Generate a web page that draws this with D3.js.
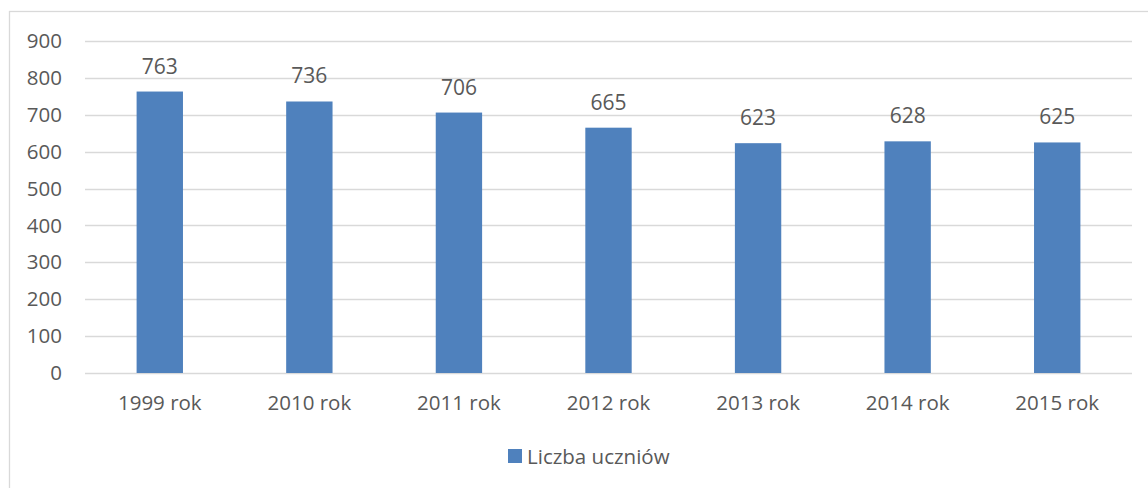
<html>
<head>
<meta charset="utf-8">
<title>Liczba uczniów</title>
<script src="https://cdn.jsdelivr.net/npm/d3@7"></script>
<style>
  body { margin: 0; background: #fff; }
  text { font-family: "Open Sans", sans-serif; fill: #595959; }
</style>
</head>
<body>
<script>
// data
var years = ["1999 rok", "2010 rok", "2011 rok", "2012 rok", "2013 rok", "2014 rok", "2015 rok"];
var pupils = [763, 736, 706, 665, 623, 628, 625];
var yTicks = [0, 100, 200, 300, 400, 500, 600, 700, 800, 900];
var seriesName = "Liczba uczniów";

var w = 1148, h = 488;
var svg = d3.select("body").append("svg").attr("width", w).attr("height", h);

// chart border
svg.append("rect")
   .attr("x", 9.5).attr("y", 11.5)
   .attr("width", w + 10).attr("height", h + 10)
   .style("fill", "none").style("stroke", "#d9d9d9").style("stroke-width", 1.3);

var x = d3.scaleBand().domain(years).range([85, 1132]).paddingInner(0.69).paddingOuter(0.345);
var y = d3.scaleLinear().domain([0, 900]).range([373, 41]);

// gridlines
svg.append("g").selectAll("line")
   .data(yTicks).enter().append("line")
   .attr("x1", 85).attr("x2", 1132)
   .attr("y1", function(d) { return Math.round(y(d)) + 0.5; })
   .attr("y2", function(d) { return Math.round(y(d)) + 0.5; })
   .style("stroke", "#d9d9d9").style("stroke-width", 1.3);

// y axis labels
var yAxis = d3.axisLeft(y).tickValues(yTicks).tickSize(0).tickPadding(0);
var gy = svg.append("g").attr("transform", "translate(62,0)").call(yAxis);
gy.select(".domain").remove();
gy.selectAll("text").style("font-size", "20.5px").style("font-family", "Open Sans").attr("fill", "#595959");

// x axis labels
var xAxis = d3.axisBottom(x).tickSize(0).tickPadding(0);
var gx = svg.append("g").attr("transform", "translate(0,395)").call(xAxis);
gx.select(".domain").remove();
gx.selectAll("text").style("font-size", "20.5px").style("font-family", "Open Sans").attr("fill", "#595959");

// bars
svg.append("g").selectAll("rect")
   .data(pupils).enter().append("rect")
   .attr("x", function(d, i) { return x(years[i]); })
   .attr("y", function(d) { return y(d); })
   .attr("width", x.bandwidth())
   .attr("height", function(d) { return y(0) - y(d); })
   .attr("fill", "#4f81bd");

// value labels
svg.append("g").selectAll("text")
   .data(pupils).enter().append("text")
   .attr("x", function(d, i) { return x(years[i]) + x.bandwidth() / 2; })
   .attr("y", function(d) { return y(d) - 18; })
   .attr("text-anchor", "middle")
   .style("font-size", "21px")
   .text(function(d) { return d; });

// legend
var lg = svg.append("g").attr("transform", "translate(508,449)");
lg.append("rect").attr("width", 14).attr("height", 14).attr("fill", "#4f81bd");
lg.append("text").attr("x", 19).attr("y", 14.5).style("font-size", "20.5px").text(seriesName);
</script>
</body>
</html>
